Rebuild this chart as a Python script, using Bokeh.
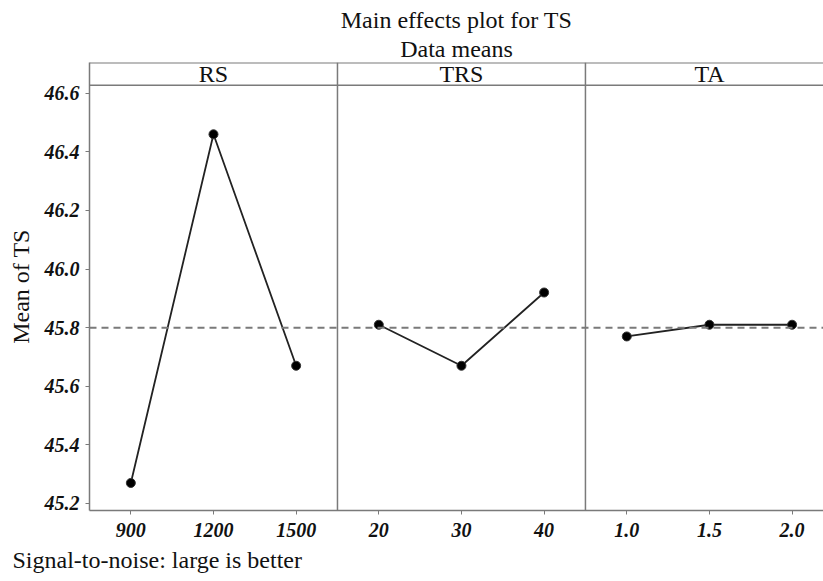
from bokeh.plotting import figure
from bokeh.models import Range1d, FixedTicker, Span, Label, Title, ColumnDataSource, PrintfTickFormatter
from bokeh.embed import file_html
from bokeh.resources import INLINE

# ---- data ----
factors = ["RS", "TRS", "TA"]
rs_levels = ["900", "1200", "1500"]
rs_means = [45.27, 46.46, 45.67]
trs_levels = ["20", "30", "40"]
trs_means = [45.81, 45.67, 45.92]
ta_levels = ["1.0", "1.5", "2.0"]
ta_means = [45.77, 45.81, 45.81]
grand_mean = 45.80
y_ticks = [45.2, 45.4, 45.6, 45.8, 46.0, 46.2, 46.4, 46.6]

levels = [rs_levels, trs_levels, ta_levels]
means = [rs_means, trs_means, ta_means]

SERIF = "Liberation Serif"
GRAY = "#7a7a7a"
TXT = "#111111"

y_bottom, panel_top, y_top = 45.176, 46.627, 46.705

p = figure(width=823, height=581, output_backend="svg", toolbar_location=None,
           x_range=Range1d(0, 8.88), y_range=Range1d(y_bottom, y_top),
           min_border_left=89, min_border_right=0, min_border_top=62,
           min_border_bottom=71)
p.outline_line_color = None
p.xgrid.visible = False
p.ygrid.visible = False
p.background_fill_color = "white"
p.border_fill_color = "white"

# titles
p.add_layout(Title(text="Data means", align="center", text_font=SERIF,
                   text_font_size="24px", text_font_style="normal",
                   text_color=TXT, standoff=2), "above")
p.add_layout(Title(text="Main effects plot for TS", align="center", text_font=SERIF,
                   text_font_size="24px", text_font_style="normal",
                   text_color=TXT, standoff=0), "above")

# grand mean reference line
p.add_layout(Span(location=grand_mean, dimension="width", line_color=GRAY,
                  line_dash="7 5", line_width=2))

# strip lines and dividers
p.add_layout(Span(location=panel_top, dimension="width", line_color=GRAY, line_width=1.5))
p.add_layout(Span(location=y_top - 0.001, dimension="width", line_color=GRAY, line_width=1.5))
for k in range(1, len(factors)):
    p.add_layout(Span(location=3 * k, dimension="height", line_color=GRAY, line_width=1.5))

tick_pos = []
tick_labels = {}
for i, (lv, mv) in enumerate(zip(levels, means)):
    xs = [3 * i + j + 0.5 for j in range(len(lv))]
    src = ColumnDataSource(dict(x=xs, y=mv))
    p.line("x", "y", source=src, line_color="#222222", line_width=1.8)
    p.scatter("x", "y", source=src, size=9, fill_color="black", line_color="#333333")
    for x, l in zip(xs, lv):
        tick_pos.append(x)
        tick_labels[x] = l
    p.add_layout(Label(x=3 * i + 1.5, y=(panel_top + y_top) / 2, text=factors[i],
                       text_align="center", text_baseline="middle", text_font=SERIF,
                       text_font_size="24px", text_color=TXT))

# axes
p.xaxis.ticker = FixedTicker(ticks=tick_pos)
p.xaxis.major_label_overrides = tick_labels
p.yaxis.ticker = FixedTicker(ticks=y_ticks)
p.yaxis.formatter = PrintfTickFormatter(format="%.1f")
for ax in (p.xaxis[0], p.yaxis[0]):
    ax.axis_line_color = GRAY
    ax.axis_line_width = 1.5
    ax.major_tick_line_color = GRAY
    ax.major_tick_out = 4
    ax.major_tick_in = 0
    ax.minor_tick_line_color = None
    ax.major_label_text_font = SERIF
    ax.major_label_text_font_size = "20px"
    ax.major_label_text_font_style = "bold italic"
    ax.major_label_text_color = TXT
p.xaxis.major_label_standoff = 8
p.yaxis.major_label_standoff = 6
p.yaxis.axis_label = "Mean of TS"
p.yaxis.axis_label_text_font = SERIF
p.yaxis.axis_label_text_font_size = "24px"
p.yaxis.axis_label_text_font_style = "normal"
p.yaxis.axis_label_text_color = TXT
p.yaxis.axis_label_standoff = 8

# footer
p.add_layout(Title(text="Signal-to-noise: large is better", align="left", text_font=SERIF,
                   text_font_size="24px", text_font_style="normal", text_color=TXT,
                   offset=-77, standoff=10), "below")

open("out.html", "w").write(file_html(p, INLINE))
